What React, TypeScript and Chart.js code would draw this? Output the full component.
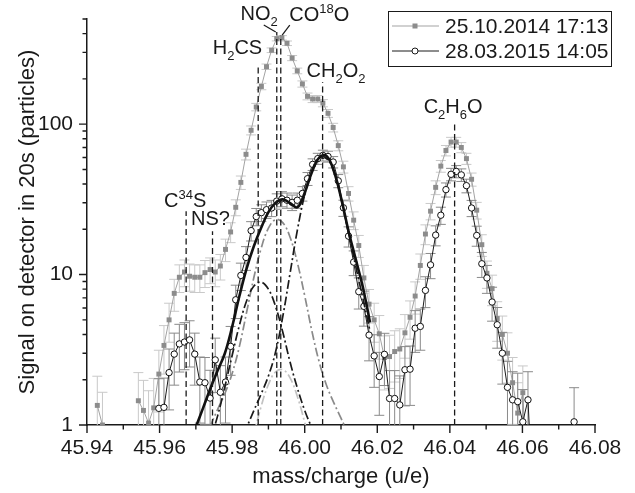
import React, { useEffect, useRef } from "react";
import { Chart, registerables } from "chart.js";

Chart.register(...registerables);

// ---------------- data ----------------
const massGrid = [
  45.94284, 45.94426, 45.94567, 45.94708, 45.94849, 45.94991, 45.95132, 45.95273, 45.95415, 45.95556,
  45.95697, 45.95838, 45.9598, 45.96121, 45.96262, 45.96404, 45.96545, 45.96686, 45.96827, 45.96969,
  45.9711, 45.97251, 45.97393, 45.97534, 45.97675, 45.97817, 45.97958, 45.98099, 45.9824, 45.98382,
  45.98523, 45.98664, 45.98806, 45.98947, 45.99088, 45.99229, 45.99371, 45.99512, 45.99653, 45.99795,
  45.99936, 46.00077, 46.00218, 46.0036, 46.00501, 46.00642, 46.00784, 46.00925, 46.01066, 46.01208,
  46.01349, 46.0149, 46.01631, 46.01773, 46.01914, 46.02055, 46.02197, 46.02338, 46.02479, 46.0262,
  46.02762, 46.02903, 46.03044, 46.03186, 46.03327, 46.03468, 46.03609, 46.03751, 46.03892, 46.04033,
  46.04175, 46.04316, 46.04457, 46.04599, 46.0474, 46.04881, 46.05022, 46.05164, 46.05305, 46.05446,
  46.05588, 46.05729, 46.0587, 46.06011, 46.06153, 46.06294, 46.06435, 46.06577, 46.06718, 46.06859,
  46.07, 46.07142, 46.07283, 46.07424,
];

const signal2014 = [
  1.35, 1.0, null, null, null, null, null, null, 1.45, 1.25,
  1.03, 1.3, 2.18, 3.38, 5.0, 7.5, 9.6, 10.4, 9.75, 9.6,
  9.6, 10.3, 10.8, 10.4, 11.4, 14.7, 19.2, 28, 41, 63,
  91, 130, 178, 241, 310, 370, 375, 345, 275, 226,
  185, 153, 147, 147, 138, 118, 95, 72, 52, 34.6,
  23, 15.6, 9.5, 6.36, 5.0, 4.04, 2.81, 2.85, 3.08, 3.2,
  4.1, 5.2, 7.2, 11.5, 18.6, 26.4, 38, 52.6, 66.8, 76,
  76, 70, 59, 43, 26.8, 15.8, 10.2, 8.06, 5.1, 4.0,
  3.0, 1.91, 1.2, 1.64, 0.3, null, null, null, null, null,
  null, null, null, null,
];

const error2014 = [
  0.76, 0.65, null, null, null, null, null, null, 0.78, 0.73,
  0.66, 0.74, 0.96, 1.2, 1.45, 1.8, 2.0, 2.1, 2.0, 2.0,
  2.0, 2.1, 2.1, 2.1, 2.2, 2.5, 2.9, 3.4, 4.2, 5.2,
  6.2, 7.4, 8.7, 10, 11, 12.5, 12.6, 12, 10.8, 9.8,
  8.8, 8.0, 7.9, 7.9, 7.6, 7.1, 6.3, 5.5, 4.7, 3.8,
  3.1, 2.6, 2.0, 1.6, 1.45, 1.3, 1.1, 1.1, 1.15, 1.16,
  1.32, 1.48, 1.74, 2.2, 2.8, 3.3, 4.0, 4.7, 5.3, 5.7,
  5.7, 5.4, 5.0, 4.3, 3.4, 2.6, 2.1, 1.85, 1.5, 1.3,
  1.1, 0.9, 0.71, 0.83, null, null, null, null, null, null,
  null, null, null, null,
];

const signal2015 = [
  null, null, null, null, null, null, null, null, null, null,
  null, null, 1.29, 1.31, 2.23, 2.96, 3.46, 3.56, 3.68, 2.96,
  1.93, 1.91, 1.51, 2.71, 1.65, 1.93, 3.33, 6.8, 9.87, 13.0,
  19.6, 24.3, 25.8, 27.0, 27.7, 30.8, 31.9, 31.2, 30.2, 31.2,
  34.6, 43.4, 54, 59, 62, 61, 56, 42, 27.8, 18,
  12.1, 7.7, 6.15, 3.96, 2.88, 2.1, 2.95, 1.5, 1.5, 1.36,
  2.33, 2.35, 4.4, 4.52, 7.85, 11.6, 18.3, 24.8, 36.7, 46.4,
  48.5, 46, 39, 27.7, 18.2, 11.8, 9.5, 6.57, 4.64, 3.0,
  1.78, 1.47, 1.43, 1.05, 1.47, 0.3, null, null, null, null,
  null, null, null, 1.05,
];

const error2015 = [
  null, null, null, null, null, null, null, null, null, null,
  null, null, 0.74, 0.74, 0.97, 1.12, 1.21, 1.23, 1.25, 1.12,
  0.9, 0.9, 0.8, 1.07, 0.83, 0.9, 1.19, 1.7, 2.04, 2.34,
  2.88, 3.2, 3.3, 3.38, 3.42, 3.61, 3.67, 3.63, 3.57, 3.63,
  3.82, 4.28, 4.78, 4.99, 5.12, 5.08, 4.86, 4.21, 3.43, 2.76,
  2.26, 1.8, 1.61, 1.29, 1.1, 0.94, 1.12, 0.8, 0.8, 0.76,
  0.99, 1.0, 1.36, 1.38, 1.82, 2.21, 2.78, 3.24, 3.94, 4.43,
  4.53, 4.41, 4.06, 3.42, 2.77, 2.23, 2.0, 1.67, 1.4, 1.13,
  0.87, 0.79, 0.78, 0.67, 0.79, null, null, null, null, null,
  null, null, null, 0.72,
];

// fitted peak components
const fitMass = [
  45.966, 45.968, 45.97, 45.972, 45.974, 45.976, 45.978, 45.98, 45.982, 45.984,
  45.986, 45.988, 45.99, 45.992, 45.994, 45.996, 45.998, 46.0, 46.002, 46.004,
  46.006, 46.008, 46.01, 46.012, 46.014, 46.016, 46.018, 46.02,
];
const fitTotal = [
  null, 0.72, 0.97, 1.3, 1.75, 2.3, 3.0, 4.5, 7.2, 11.0,
  15.5, 20.5, 26.0, 30.0, 31.6, 29.8, 28.0, 35.0, 48.0, 60.0,
  61.5, 49.0, 32.5, 19.8, 12.8, 8.3, 4.8, null,
];
const fitH2CS = [
  null, null, null, null, 0.8, 1.15, 1.8, 2.9, 4.6, 6.7,
  8.4, 8.9, 8.0, 6.1, 4.1, 2.6, 1.75, 1.25, 0.95, 0.72,
  null, null, null, null, null, null, null, null,
];
const fitNO2 = [
  null, null, null, 0.77, 0.99, 1.27, 1.62, 2.2, 3.33, 5.64,
  9.59, 14.97, 20.33, 23.19, 22.07, 17.62, 11.93, 7.23, 4.19, 2.62,
  1.84, 1.41, 1.11, 0.87, 0.67, null, null, null,
];
const fitCO18O = [
  null, null, null, null, null, null, null, null, 0.39, 0.57,
  0.87, 1.33, 1.86, 2.26, 2.33, 2.05, 1.54, 1.04, 0.67, 0.45,
  null, null, null, null, null, null, null, null,
];
const fitCH2O2 = [
  null, null, null, null, null, null, null, 0.53, 0.72, 0.96,
  1.25, 1.61, 2.12, 3.08, 5.33, 10.33, 19.91, 33.96, 49.47, 59.64,
  59.41, 48.88, 32.0, 19.4, 11.5, 7.0, 4.2, null,
];

// species reference lines
const speciesMass = [45.96732, 45.97459, 45.98718, 45.9923, 45.9934, 46.00493, 46.04131];
const speciesTop = [26.4, 19.4, 251, 410, 390, 190, 105];
type Piece = [string, number];
const speciesLabels: Piece[][] = [
  [["C", 0], ["34", 1], ["S", 0]],
  [["NS?", 0]],
  [["H", 0], ["2", -1], ["CS", 0]],
  [["NO", 0], ["2", -1]],
  [["CO", 0], ["18", 1], ["O", 0]],
  [["CH", 0], ["2", -1], ["O", 0], ["2", -1]],
  [["C", 0], ["2", -1], ["H", 0], ["6", -1], ["O", 0]],
];

// axis ticks
const xTickValues = [45.94, 45.95, 45.96, 45.97, 45.98, 45.99, 46.0, 46.01, 46.02, 46.03, 46.04, 46.05, 46.06, 46.07, 46.08];
const xTickLabels = ["45.94", "", "45.96", "", "45.98", "", "46.00", "", "46.02", "", "46.04", "", "46.06", "", "46.08"];
const yTickValues = [1, 2, 3, 4, 5, 6, 7, 8, 9, 10, 20, 30, 40, 50, 60, 70, 80, 90, 100, 200, 300, 400, 500];
const yTickLabels = ["1", "", "", "", "", "", "", "", "", "10", "", "", "", "", "", "", "", "", "100", "", "", "", ""];

const legendLabels = ["25.10.2014 17:13", "28.03.2015 14:05"];

// ---------------- styles ----------------
const FONT = '"Liberation Sans", Arial, Helvetica, sans-serif';
const INK = "#1a1a1a";
const GRAY_LINE = "#a3a3a3";
const GRAY_MARK = "#8c8c8c";
const GRAY_ERR = "#c9c9c9";
const BLACK_ERR = "#8a8a8a";
const DASHDOT = [9, 3, 2, 3];

const labelStyle = [
  { align: "center", dx: -1, dy: -4 },
  { align: "center", dx: -2, dy: -6 },
  { align: "right", dx: 4, dy: -10 },
  { align: "right", dx: 1, dy: -11.5 },
  { align: "left", dx: 8.5, dy: -14.5 },
  { align: "left", dx: -16, dy: -5 },
  { align: "center", dx: -1.5, dy: -8 },
];
const connectors: Record<number, number[]> = {
  3: [-13, -7, -1, 0],
  4: [9, -10, 1.4, 0],
};

const pts = (xs: number[], ys: (number | null)[]) => xs.map((x, i) => ({ x, y: ys[i] }));
const fitPts = (ys: (number | null)[]) => pts(fitMass, ys).filter((p) => p.y !== null);

const errorBarPlugin = {
  id: "errorBars",
  beforeDatasetDraw(chart: any, args: any) {
    const ds = chart.data.datasets[args.index];
    if (!ds.errors) return;
    const { ctx, chartArea } = chart;
    const xs = chart.scales.x;
    const ys = chart.scales.y;
    ctx.save();
    ctx.beginPath();
    ctx.rect(chartArea.left, chartArea.top, chartArea.right - chartArea.left, chartArea.bottom - chartArea.top);
    ctx.clip();
    ctx.strokeStyle = ds.errorColor;
    ctx.lineWidth = 1;
    ds.data.forEach((p: any, i: number) => {
      const e = ds.errors[i];
      if (p.y == null || !(p.y >= 1) || e == null) return;
      const x = xs.getPixelForValue(p.x);
      const top = ys.getPixelForValue(p.y + e);
      const low = p.y - e;
      const bot = low > 0 ? ys.getPixelForValue(low) : chartArea.bottom + 50;
      ctx.beginPath();
      ctx.moveTo(x, top);
      ctx.lineTo(x, bot);
      ctx.moveTo(x - 5, top);
      ctx.lineTo(x + 5, top);
      ctx.moveTo(x - 5, bot);
      ctx.lineTo(x + 5, bot);
      ctx.stroke();
    });
    ctx.restore();
  },
};

function drawRich(ctx: CanvasRenderingContext2D, pieces: Piece[], x: number, y: number, align: string) {
  const big = `20px ${FONT}`;
  const small = `13px ${FONT}`;
  const widths = pieces.map(([t, k]) => {
    ctx.font = k === 0 ? big : small;
    return ctx.measureText(t).width;
  });
  const total = widths.reduce((a, b) => a + b, 0);
  let cx = align === "center" ? x - total / 2 : align === "right" ? x - total : x;
  ctx.textAlign = "left";
  ctx.textBaseline = "alphabetic";
  pieces.forEach(([t, k], i) => {
    ctx.font = k === 0 ? big : small;
    ctx.fillText(t, cx, y + (k === -1 ? 6 : k === 1 ? -8 : 0));
    cx += widths[i];
  });
}

const decorPlugin = {
  id: "decor",
  afterDraw(chart: any) {
    const { ctx, chartArea } = chart;
    const xs = chart.scales.x;
    const ys = chart.scales.y;
    ctx.save();
    // tick marks (outward)
    ctx.strokeStyle = INK;
    ctx.lineWidth = 1.4;
    ctx.beginPath();
    xTickValues.forEach((v, i) => {
      const px = xs.getPixelForValue(v);
      const len = xTickLabels[i] ? 8 : 4.5;
      ctx.moveTo(px, chartArea.bottom);
      ctx.lineTo(px, chartArea.bottom + len);
    });
    yTickValues.forEach((v, i) => {
      const py = ys.getPixelForValue(v);
      const len = yTickLabels[i] ? 8 : 4.5;
      ctx.moveTo(chartArea.left, py);
      ctx.lineTo(chartArea.left - len, py);
    });
    ctx.stroke();

    // species dashed lines
    ctx.strokeStyle = INK;
    ctx.lineWidth = 1.3;
    ctx.setLineDash([6, 3.5]);
    speciesMass.forEach((m, i) => {
      const px = xs.getPixelForValue(m);
      const top = ys.getPixelForValue(speciesTop[i]);
      ctx.beginPath();
      ctx.moveTo(px, chartArea.bottom);
      ctx.lineTo(px, top);
      ctx.stroke();
    });
    ctx.setLineDash([]);

    // labels
    ctx.fillStyle = INK;
    speciesMass.forEach((m, i) => {
      const px = xs.getPixelForValue(m);
      const top = ys.getPixelForValue(speciesTop[i]);
      const st = labelStyle[i];
      drawRich(ctx, speciesLabels[i], px + st.dx, top + st.dy, st.align);
      const c = connectors[i];
      if (c) {
        ctx.lineWidth = 1.2;
        ctx.beginPath();
        ctx.moveTo(px + c[0], top + c[1]);
        ctx.lineTo(px + c[2], top + c[3]);
        ctx.stroke();
      }
    });

    // legend
    ctx.lineWidth = 1;
    ctx.strokeStyle = INK;
    ctx.strokeRect(388.5, 11.5, 223, 55);
    const rows = [26, 51];
    ctx.font = `21px ${FONT}`;
    ctx.textAlign = "left";
    ctx.textBaseline = "alphabetic";
    ctx.strokeStyle = GRAY_LINE;
    ctx.beginPath();
    ctx.moveTo(392, rows[0]);
    ctx.lineTo(439, rows[0]);
    ctx.stroke();
    ctx.fillStyle = GRAY_MARK;
    ctx.fillRect(415 - 2.5, rows[0] - 2.5, 5, 5);
    ctx.strokeStyle = INK;
    ctx.beginPath();
    ctx.moveTo(392, rows[1]);
    ctx.lineTo(439, rows[1]);
    ctx.stroke();
    ctx.fillStyle = "#fff";
    ctx.beginPath();
    ctx.arc(415, rows[1], 3, 0, Math.PI * 2);
    ctx.fill();
    ctx.stroke();
    ctx.fillStyle = INK;
    ctx.fillText(legendLabels[0], 445, rows[0] + 7);
    ctx.fillText(legendLabels[1], 445, rows[1] + 7);
    ctx.restore();
  },
};

export default function App() {
  const ref = useRef<HTMLCanvasElement>(null);
  useEffect(() => {
    const canvas = ref.current;
    if (!canvas) return;
    Chart.defaults.font.family = FONT;
    const clipData = { left: 6, top: 6, right: 6, bottom: 0 };
    const chart = new Chart(canvas, {
      type: "line",
      data: {
        datasets: [
          {
            label: legendLabels[0],
            data: pts(massGrid, signal2014),
            errors: error2014,
            errorColor: GRAY_ERR,
            borderColor: GRAY_LINE,
            borderWidth: 1,
            pointStyle: "rect",
            pointRadius: (c: any) => (c.raw && c.raw.y >= 1 ? 3.5 : 0),
            pointBackgroundColor: GRAY_MARK,
            pointBorderWidth: 0,
            tension: 0,
            clip: clipData,
            order: 10,
          },
          {
            label: legendLabels[1],
            data: pts(massGrid, signal2015),
            errors: error2015,
            errorColor: BLACK_ERR,
            borderColor: INK,
            borderWidth: 1,
            pointStyle: "circle",
            pointRadius: (c: any) => (c.raw && c.raw.y >= 1 ? 3.2 : 0),
            pointBackgroundColor: "#ffffff",
            pointBorderColor: "#111111",
            pointBorderWidth: 1,
            tension: 0,
            clip: clipData,
            order: 9,
          },
          {
            label: "CO18O fit",
            data: fitPts(fitCO18O),
            borderColor: "#c2c2c2",
            borderWidth: 1.7,
            borderDash: DASHDOT,
            pointRadius: 0,
            tension: 0.4,
            clip: clipData,
            order: 6,
          },
          {
            label: "NO2 fit",
            data: fitPts(fitNO2),
            borderColor: "#8a8a8a",
            borderWidth: 1.7,
            borderDash: DASHDOT,
            pointRadius: 0,
            tension: 0.4,
            clip: clipData,
            order: 5,
          },
          {
            label: "H2CS fit",
            data: fitPts(fitH2CS),
            borderColor: INK,
            borderWidth: 1.7,
            borderDash: DASHDOT,
            pointRadius: 0,
            tension: 0.4,
            clip: clipData,
            order: 4,
          },
          {
            label: "CH2O2 fit",
            data: fitPts(fitCH2O2),
            borderColor: INK,
            borderWidth: 1.7,
            borderDash: DASHDOT,
            pointRadius: 0,
            tension: 0.4,
            clip: clipData,
            order: 3,
          },
          {
            label: "total fit",
            data: fitPts(fitTotal),
            borderColor: "#111111",
            borderWidth: 2.6,
            pointRadius: 0,
            tension: 0.4,
            clip: clipData,
            order: 1,
          },
        ] as any,
      },
      options: {
        animation: false,
        responsive: false,
        maintainAspectRatio: false,
        devicePixelRatio: 1,
        events: [],
        layout: { padding: { left: 0, right: 40, top: 19, bottom: 0 } },
        plugins: { legend: { display: false }, tooltip: { enabled: false } },
        scales: {
          x: {
            type: "linear",
            min: 45.94,
            max: 46.08,
            bounds: "data",
            afterBuildTicks: (s: any) => {
              s.ticks = xTickValues.map((v) => ({ value: v }));
            },
            afterFit: (s: any) => {
              s.height = 68;
              s.paddingLeft = 0;
              s.paddingRight = 0;
            },
            grid: { display: true, drawOnChartArea: false, drawTicks: false },
            border: { display: true, color: INK, width: 1.5 },
            ticks: {
              autoSkip: false,
              maxRotation: 0,
              minRotation: 0,
              padding: 11,
              color: INK,
              font: { size: 21, family: FONT },
              callback: (_v: any, i: number) => xTickLabels[i],
            },
            title: {
              display: true,
              text: "mass/charge (u/e)",
              color: INK,
              font: { size: 22, family: FONT },
              padding: { top: 0, bottom: 2.5 },
            },
          },
          y: {
            type: "logarithmic",
            min: 1,
            max: 500,
            bounds: "data",
            afterBuildTicks: (s: any) => {
              s.ticks = yTickValues.map((v) => ({ value: v }));
            },
            afterFit: (s: any) => {
              s.width = 87;
              s.paddingTop = 0;
              s.paddingBottom = 0;
            },
            grid: { display: true, drawOnChartArea: false, drawTicks: false },
            border: { display: true, color: INK, width: 1.5 },
            ticks: {
              autoSkip: false,
              padding: 14,
              color: INK,
              font: { size: 21, family: FONT },
              callback: (_v: any, i: number) => yTickLabels[i],
            },
            title: {
              display: true,
              text: "Signal on detector in 20s (particles)",
              color: INK,
              font: { size: 22, family: FONT },
              padding: { top: 15, bottom: 0 },
            },
          },
        },
      } as any,
      plugins: [errorBarPlugin, decorPlugin],
    });
    return () => chart.destroy();
  }, []);
  return (
    <div style={{ position: "fixed", left: 0, top: 0, width: 635, height: 493, background: "#fff" }}>
      <canvas ref={ref} width={635} height={493} style={{ display: "block", width: 635, height: 493 }} />
    </div>
  );
}
